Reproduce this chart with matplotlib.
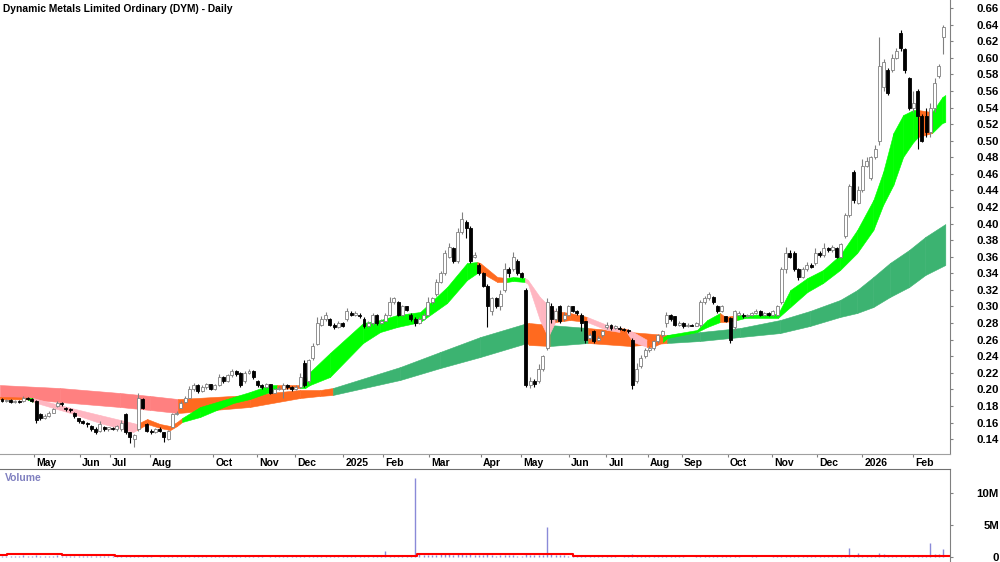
import numpy as np
import matplotlib.pyplot as plt
from matplotlib import transforms, font_manager

plt.rcParams['font.family'] = ['Liberation Sans', 'DejaVu Sans']
plt.rcParams['font.weight'] = 'bold'

title = 'Dynamic Metals Limited Ordinary (DYM) - Daily'

# price bars, values in 0.001 A$ (one bar ~ two trading days)
opens = [188, 186, 187, 185, 186, 186, 190, 188, 186, 170,
         166, 168, 172, 180, 184, 178, 176, 172, 165, 162,
         160, 156, 152, 150, 155, 152, 153, 152, 152, 170,
         148, 140, 152, 188, 158, 150, 148, 152, 148, 140,
         155, 170, 178, 185, 190, 200, 205, 198, 203, 206,
         200, 205, 215, 210, 217, 222, 220, 210, 220, 222,
         210, 205, 203, 206, 196, 200, 200, 205, 203, 200,
         203, 232, 210, 238, 255, 278, 285, 285, 278, 275,
         280, 285, 292, 290, 290, 285, 276, 280, 290, 280,
         283, 290, 305, 305, 290, 300, 290, 285, 280, 285,
         290, 305, 315, 330, 340, 360, 370, 355, 390, 402,
         395, 360, 350, 340, 325, 295, 310, 300, 320, 345,
         345, 355, 340, 320, 205, 210, 210, 225, 250, 300,
         285, 300, 285, 290, 300, 295, 290, 282, 262, 270,
         260, 265, 275, 278, 274, 274, 273, 272, 260, 210,
         228, 240, 247, 250, 258, 265, 280, 290, 288, 278,
         280, 276, 278, 277, 278, 305, 310, 312, 300, 295,
         288, 286, 275, 290, 290, 288, 290, 292, 295, 290,
         292, 290, 290, 305, 345, 365, 365, 345, 335, 345,
         350, 352, 365, 362, 370, 368, 370, 360, 385, 410,
         462, 425, 440, 470, 455, 480, 500, 565, 585, 585,
         600, 630, 610, 575, 540, 560, 530, 530, 510, 540,
         578, 625]
closes = [186, 187, 185, 186, 185, 190, 188, 186, 163, 165,
          168, 172, 176, 184, 182, 176, 175, 168, 162, 160,
          158, 152, 148, 158, 152, 154, 152, 156, 160, 148,
          142, 145, 190, 178, 150, 148, 152, 150, 142, 150,
          170, 172, 184, 190, 200, 205, 198, 203, 206, 200,
          205, 215, 210, 217, 222, 218, 205, 220, 222, 215,
          205, 203, 206, 196, 200, 202, 205, 203, 200, 203,
          215, 205, 235, 252, 280, 285, 290, 278, 275, 280,
          277, 295, 290, 292, 288, 276, 280, 290, 280, 283,
          290, 305, 310, 290, 300, 296, 285, 280, 285, 290,
          305, 310, 330, 340, 365, 372, 355, 390, 405, 395,
          355, 362, 340, 325, 300, 310, 300, 315, 345, 340,
          360, 340, 336, 205, 210, 206, 225, 240, 305, 285,
          295, 282, 290, 300, 295, 292, 280, 260, 265, 258,
          262, 270, 278, 274, 276, 273, 272, 270, 205, 225,
          238, 247, 250, 258, 265, 270, 290, 285, 278, 280,
          276, 278, 277, 280, 305, 310, 315, 305, 295, 300,
          282, 260, 295, 292, 288, 290, 292, 295, 290, 292,
          290, 295, 300, 345, 365, 360, 345, 335, 345, 350,
          348, 365, 362, 370, 368, 372, 360, 375, 410, 445,
          428, 440, 470, 475, 480, 490, 590, 595, 558, 600,
          608, 612, 585, 540, 545, 530, 500, 510, 540, 570,
          590, 637]
highs = [190, 188, 188, 187, 187, 192, 191, 189, 187, 172,
         170, 174, 178, 186, 185, 179, 177, 173, 166, 163,
         161, 157, 154, 162, 156, 155, 154, 157, 163, 172,
         149, 146, 195, 189, 160, 152, 153, 154, 149, 151,
         172, 174, 186, 192, 204, 208, 206, 205, 208, 207,
         207, 218, 216, 219, 224, 223, 221, 222, 224, 223,
         211, 207, 208, 207, 202, 204, 208, 206, 204, 205,
         220, 235, 237, 256, 287, 288, 293, 286, 280, 282,
         281, 298, 294, 294, 292, 287, 282, 292, 291, 285,
         292, 311, 312, 306, 302, 301, 292, 287, 287, 292,
         311, 312, 333, 343, 368, 376, 372, 395, 414, 404,
         397, 366, 352, 341, 327, 312, 312, 320, 352, 348,
         366, 357, 342, 322, 215, 212, 230, 242, 310, 304,
         298, 302, 293, 302, 301, 296, 292, 283, 268, 272,
         264, 272, 281, 279, 278, 276, 274, 273, 262, 232,
         241, 250, 252, 260, 267, 272, 293, 291, 289, 282,
         281, 280, 279, 281, 308, 313, 318, 313, 302, 302,
         289, 287, 296, 294, 292, 291, 293, 297, 296, 293,
         293, 296, 302, 347, 372, 368, 367, 346, 347, 354,
         352, 370, 367, 376, 372, 374, 372, 377, 413, 448,
         465, 445, 478, 480, 482, 495, 625, 598, 588, 605,
         612, 633, 612, 577, 560, 562, 532, 540, 545, 575,
         592, 640]
lows = [185, 185, 184, 184, 184, 185, 187, 185, 160, 163,
        164, 167, 171, 179, 180, 174, 173, 166, 160, 158,
        155, 150, 146, 149, 150, 150, 151, 150, 150, 146,
        135, 130, 150, 176, 148, 146, 147, 149, 137, 139,
        154, 169, 177, 184, 189, 198, 196, 197, 201, 199,
        199, 204, 208, 209, 215, 216, 203, 208, 218, 212,
        203, 201, 202, 194, 195, 199, 190, 201, 198, 199,
        202, 203, 208, 236, 254, 276, 282, 276, 273, 274,
        275, 283, 288, 289, 286, 274, 275, 278, 278, 279,
        282, 288, 303, 288, 289, 294, 283, 277, 279, 284,
        288, 303, 313, 328, 338, 358, 352, 353, 388, 383,
        352, 358, 338, 323, 275, 290, 298, 296, 318, 336,
        343, 338, 334, 203, 202, 203, 208, 222, 247, 280,
        283, 280, 283, 288, 293, 290, 270, 256, 260, 256,
        258, 263, 273, 272, 273, 272, 270, 268, 200, 208,
        226, 238, 245, 248, 256, 263, 275, 283, 276, 277,
        274, 275, 276, 276, 275, 303, 308, 303, 292, 293,
        281, 256, 272, 288, 286, 287, 289, 291, 289, 289,
        289, 289, 289, 303, 340, 358, 343, 332, 334, 343,
        346, 350, 360, 360, 366, 366, 358, 358, 383, 408,
        425, 423, 438, 468, 452, 478, 495, 560, 555, 583,
        598, 608, 582, 537, 535, 490, 498, 505, 505, 535,
        575, 605]
# volume in thousands of shares
volume_k = [150, 120, 200, 180, 90, 250, 160, 130, 300, 220,
            140, 180, 200, 260, 150, 120, 100, 180, 220, 140,
            90, 160, 200, 130, 110, 80, 120, 140, 150, 260,
            180, 200, 240, 150, 110, 90, 70, 100, 160, 120,
            140, 200, 180, 150, 120, 160, 100, 90, 130, 110,
            100, 140, 120, 90, 150, 110, 200, 300, 140, 100,
            90, 80, 70, 100, 120, 90, 110, 80, 100, 90,
            150, 200, 180, 250, 300, 220, 160, 140, 120, 110,
            100, 130, 150, 120, 110, 140, 100, 120, 130, 260,
            900, 250, 200, 150, 120, 100, 140, 12300, 400, 300,
            250, 300, 350, 400, 450, 500, 380, 420, 600, 350,
            400, 300, 250, 280, 450, 300, 200, 250, 350, 300,
            280, 220, 200, 600, 350, 250, 300, 280, 4700, 500,
            300, 250, 280, 200, 150, 120, 180, 220, 140, 160,
            120, 100, 90, 110, 80, 70, 90, 100, 400, 200,
            150, 120, 100, 110, 90, 130, 180, 120, 100, 90,
            80, 70, 60, 80, 200, 150, 120, 100, 90, 80,
            100, 200, 180, 90, 70, 60, 80, 90, 70, 60,
            70, 80, 150, 300, 350, 200, 180, 150, 120, 100,
            110, 130, 120, 150, 100, 90, 120, 200, 350, 1400,
            300, 700, 300, 250, 200, 300, 600, 400, 300, 250,
            200, 250, 300, 200, 250, 350, 300, 250, 2200, 400,
            500, 1200]

# volume moving average (thousands), read as steps
vol_ma_x = [-0.5, 1.2, 14.1, 26.5, 97.5, 134.1, 165.6, 218.6, 222.6]
vol_ma = [300, 450, 350, 150, 450, 150, 80, 180, 180]

# short-term average band (fast group)
short_x = [-0.5, 5.9, 7.3, 15.3, 23.0, 30.8, 31.7, 34.1, 37.1, 39.5,
           41.1, 42.3, 46.5, 54.3, 58.2, 62.9, 64.6, 70.0, 71.2, 72.3,
           77.0, 84.8, 88.8, 92.8, 98.2, 104.5, 109.2, 111.6, 112.3, 116.3,
           118.6, 120.0, 122.8, 123.5, 126.3, 128.2, 129.9, 133.4, 137.4, 142.1,
           145.1, 146.8, 148.2, 151.5, 152.9, 155.2, 156.2, 163.2, 165.6, 168.6,
           169.8, 172.6, 174.5, 182.2, 185.1, 189.1, 192.8, 196.8, 200.8, 204.6,
           206.9, 209.3, 211.6, 214.0, 215.1, 218.4, 220.8, 221.5]
short_hi = [.191, .190, .1895, .1787, .169, .1594, .1582, .1642, .1582, .1558,
            .1606, .1654, .1787, .1907, .1968, .2052, .2052, .2052, .2113, .2209,
            .2438, .28, .2836, .2897, .2933, .3234, .3524, .3536, .3524, .3355,
            .3343, .3355, .3343, .3319, .3114, .3017, .2945, .2921, .2873, .2776,
            .274, .2728, .2691, .2595, .2595, .2631, .2655, .2716, .2836, .2921,
            .2873, .2897, .2897, .2909, .3198, .3343, .344, .362, .3922, .4284,
            .4622, .5092, .5309, .537, .537, .5345, .5526, .5551]
short_lo = [.188, .188, .1847, .1727, .1594, .1485, .151, .1582, .1534, .1509,
            .1558, .1606, .1666, .1835, .1883, .1968, .2004, .2016, .2016, .2052,
            .2149, .2559, .2691, .2752, .2812, .3041, .3319, .3403, .3415, .3295,
            .3295, .3307, .3295, .3271, .2836, .2631, .2812, .2836, .2812, .2716,
            .2691, .2679, .2571, .2511, .2511, .2571, .2619, .2691, .2752, .2812,
            .2812, .2836, .2861, .2861, .2993, .3174, .3283, .344, .3645, .3922,
            .4224, .4465, .4803, .4984, .5044, .5092, .5213, .5225]
short_state = ('ogppppoooo' 'ogggggoggg' 'gggggggooo' 'ggppppoopp'
               'oppooggggo' 'oggggggggg' 'ggggoggg')

# long-term average band (slow group)
long_x = [-0.5, 13.6, 27.7, 34.8, 41.3, 58.2, 70.0, 74.7, 77.7, 93.5,
          102.9, 112.3, 123.3, 123.8, 128.7, 137.6, 147.5, 156.2, 163.9, 173.3,
          182.7, 189.7, 196.8, 200.8, 204.6, 208.5, 213.0, 216.8, 221.5]
long_hi = [.2052, .2016, .1956, .192, .1883, .1932, .1992, .1992, .2016, .2269,
           .2451, .2631, .28, .28, .2776, .274, .2691, .2655, .2691, .274,
           .2836, .2945, .3078, .3198, .3355, .3524, .3681, .3838, .3994]
long_lo = [.1907, .1847, .1787, .1751, .1714, .1787, .1895, .192, .1932, .2113,
           .2257, .239, .2559, .2535, .2523, .2559, .2523, .2559, .2583, .2631,
           .2679, .2764, .2873, .2921, .2993, .3114, .3234, .3379, .35]
long_state = 'rrrroooogg' 'ggoogooggg' 'ggggggggg'

month_pos = [7.5, 18.3, 25.4, 34.8, 49.6, 59.9, 68.8, 80.1, 89.5, 100.3, 112.5,
             121.9, 133.2, 141.9, 151.7, 159.7, 170.5, 180.8, 191.4, 202.0, 214.0]
month_lbl = ['May', 'Jun', 'Jul', 'Aug', 'Oct', 'Nov', 'Dec', '2025', 'Feb', 'Mar', 'Apr',
             'May', 'Jun', 'Jul', 'Aug', 'Sep', 'Oct', 'Nov', 'Dec', '2026', 'Feb']

short_cols = {'g': '#00FF00', 'o': '#FF6A1F', 'p': '#FFB6C1'}
long_cols = {'g': '#3CB371', 'o': '#FF6A1F', 'r': '#FF8080'}


def draw_band(ax, xs, hi, lo, state, cols):
    for i in range(len(xs) - 1):
        c = cols[state[i]]
        ax.fill_between(xs[i:i + 2], lo[i:i + 2], hi[i:i + 2],
                        facecolor=c, edgecolor=c, lw=0.4, zorder=1)


o = np.array(opens) / 1000
c = np.array(closes) / 1000
h = np.array(highs) / 1000
l = np.array(lows) / 1000
x = np.arange(len(o))
vol = np.array(volume_k)

fig = plt.figure(figsize=(10, 5.62), dpi=100)
ax = fig.add_axes([0, 108 / 562, 0.95, 454 / 562])
axv = fig.add_axes([0, 0, 0.95, 93 / 562])

#Bands first, candles on top
draw_band(ax, long_x, long_hi, long_lo, long_state, long_cols)
draw_band(ax, short_x, short_hi, short_lo, short_state, short_cols)

up = c >= o
body_lo = np.minimum(o, c)
body_h = np.maximum(np.abs(c - o), 0.0012)
ax.vlines(x[up], l[up], h[up], color='#808080', lw=0.8, zorder=2)
ax.vlines(x[~up], l[~up], h[~up], color='black', lw=0.8, zorder=2)
ax.bar(x[up], body_h[up], bottom=body_lo[up], width=0.7, color='white',
       edgecolor='#808080', lw=0.6, zorder=3)
ax.bar(x[~up], body_h[~up], bottom=body_lo[~up], width=0.7, color='black',
       edgecolor='black', lw=0.6, zorder=3)

ax.set_xlim(-0.47, 222.6)
ax.set_ylim(0.122, 0.6697)
ax.set_yticks(np.arange(0.14, 0.665, 0.02))
ax.set_yticklabels([f'{v:.2f}' for v in np.arange(0.14, 0.665, 0.02)])
ax.yaxis.tick_right()
ax.tick_params(axis='y', direction='out', length=2.2, width=0.8, color='#808080',
               pad=33, labelsize=8.2)
for lbl in ax.get_yticklabels():
    lbl.set_horizontalalignment('right')

ax.set_xticks(month_pos)
ax.set_xticklabels(month_lbl)
ax.tick_params(axis='x', direction='out', length=2.2, width=0.8, color='#808080',
               pad=0.5, labelsize=7.5)
offset = transforms.ScaledTranslation(2 / 100, 0, fig.dpi_scale_trans)
for lbl in ax.get_xticklabels():
    lbl.set_horizontalalignment('left')
    lbl.set_transform(lbl.get_transform() + offset)

for s in ['top', 'left']:
    ax.spines[s].set_visible(False)
ax.spines['bottom'].set_color('#A0A0A0')
ax.spines['right'].set_color('#808080')

#Volume panel
axv.vlines(x, 0, vol, color='#8A8AD8', lw=1)
axv.plot(vol_ma_x, vol_ma, color='red', lw=1.5, drawstyle='steps-post')
axv.set_xlim(-0.47, 222.6)
axv.set_ylim(-780, 13750)
axv.set_xticks([])
axv.set_yticks([0, 5000, 10000])
axv.set_yticklabels(['0', '5M', '10M'])
axv.yaxis.tick_right()
axv.tick_params(axis='y', direction='out', length=2.2, width=0.8, color='#808080',
                pad=33, labelsize=8.2)
for lbl in axv.get_yticklabels():
    lbl.set_horizontalalignment('right')
for s in ['bottom', 'left']:
    axv.spines[s].set_visible(False)
axv.spines['top'].set_color('#707070')
axv.spines['right'].set_color('#808080')
axv.text(5 / 950, (562 - 478) / 93, 'Volume', transform=axv.transAxes,
         color='#8080C0', fontsize=7.5, va='center', ha='left')

#Title: narrow face if the system has one, else a smaller regular face
names = {f.name for f in font_manager.fontManager.ttflist}
if 'Liberation Sans Narrow' in names:
    fig.text(4 / 1000, 1 - 9 / 562, title, fontsize=9, va='center', ha='left',
             family='Liberation Sans Narrow')
else:
    fig.text(3 / 1000, 1 - 9 / 562, title, fontsize=7.4, va='center', ha='left')

fig.savefig('out.png', dpi=100)
